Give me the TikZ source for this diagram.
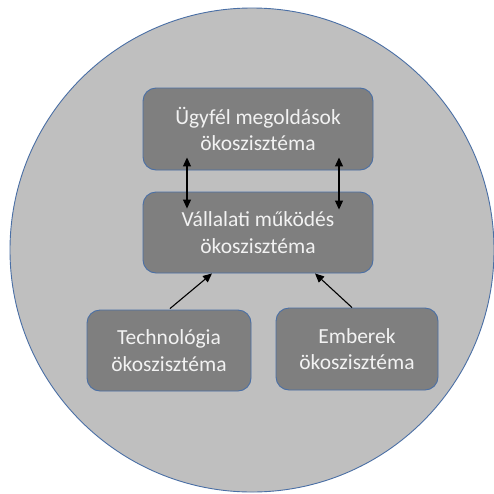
\documentclass[tikz,border=0pt]{standalone}
\usepackage{fontspec}
\setmainfont{Carlito}
\usetikzlibrary{arrows.meta}
\definecolor{outerfill}{HTML}{BFBFBF}
\definecolor{boxfill}{HTML}{7F7F7F}
\definecolor{edgeblue}{HTML}{4A6FA5}
\definecolor{labeltext}{HTML}{F2F2F2}
\begin{document}
\begin{tikzpicture}[x=1pt,y=-1pt,
  eco/.style={draw=edgeblue,line width=0.9pt,fill=boxfill,rounded corners=13pt,
    text=labeltext,align=center,inner sep=0pt,
    font=\fontsize{21.5}{26.5}\selectfont},
  link/.style={draw=black,line width=1.1pt,-{Triangle[length=9pt,width=8pt]}},
  dlink/.style={draw=black,line width=1.1pt,{Triangle[length=9pt,width=8pt]}-{Triangle[length=9pt,width=8pt]}}]
  \useasboundingbox (0,0) rectangle (494,493);
  \begin{scope}
    \clip (0,0) rectangle (494,493);
    \draw[edgeblue,line width=0.9pt,fill=outerfill] (252,250) circle[radius=242];
  \end{scope}
  \node[eco,minimum width=230pt,minimum height=82pt] (top) at (258,129)
    {Ügyfél megoldások\\ökoszisztéma};
  \node[eco,minimum width=230pt,minimum height=81pt] (mid) at (258,232.5)
    {Vállalati működés\\ökoszisztéma};
  \node[eco,minimum width=164pt,minimum height=81pt] (tech) at (169,350.5)
    {Technológia\\ökoszisztéma};
  \node[eco,minimum width=162pt,minimum height=82pt] (emb) at (357,349)
    {Emberek\\ökoszisztéma};
  \draw[dlink] ([shift={(-71,-13)}]top.south) -- ([shift={(-71,17)}]mid.north);
  \draw[dlink] ([shift={(81,-13)}]top.south) -- ([shift={(81,18)}]mid.north);
  \draw[link] ([shift={(1,-1)}]tech.north) -- ([shift={(-46,0)}]mid.south);
  \draw[link] ([shift={(-5,0)}]emb.north) -- ([shift={(57,0)}]mid.south);
\end{tikzpicture}
\end{document}
